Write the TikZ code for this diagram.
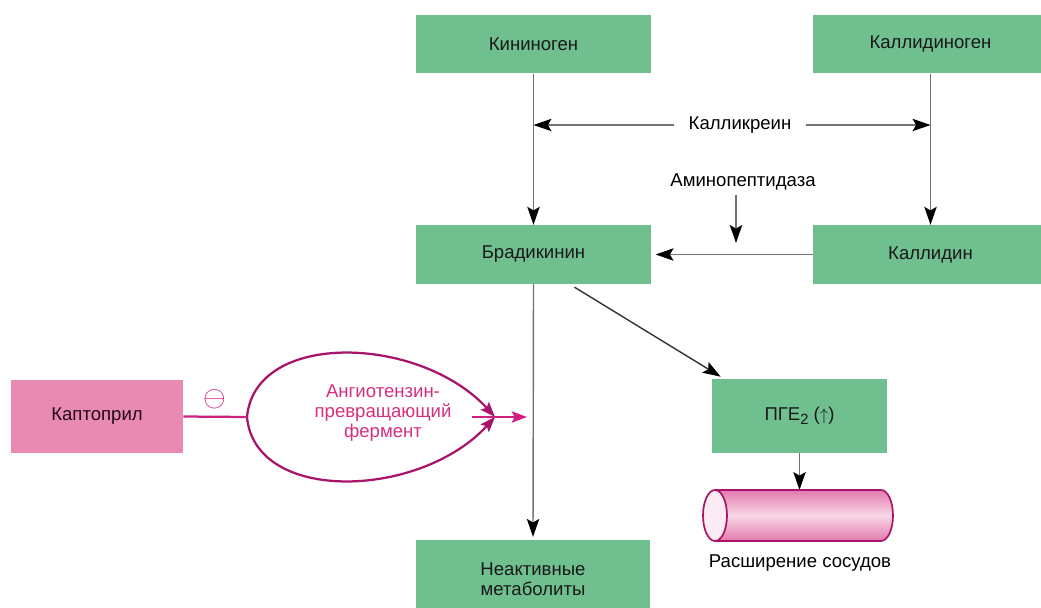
\documentclass[tikz,border=0pt]{standalone}
\usepackage{fontspec}
\setmainfont{Liberation Sans}
\usetikzlibrary{arrows.meta,positioning,calc}
\definecolor{boxgreen}{HTML}{6FBF8F}
\definecolor{boxpink}{HTML}{E98AB3}
\definecolor{magline}{HTML}{D0207F}
\definecolor{magdark}{HTML}{A8146A}
\definecolor{magtext}{HTML}{D4307F}
\definecolor{tubepink}{HTML}{E47AAE}

\begin{document}
\begin{tikzpicture}[
  x=0.025cm, y=0.025cm,
  font=\fontsize{13.2}{14.2}\selectfont,
  grn/.style={rectangle, fill=boxgreen, minimum width=5.875cm, minimum height=1.47cm, inner sep=2pt, align=center, text=black!90},
  pnk/.style={rectangle, fill=boxpink, minimum width=4.3cm, minimum height=1.825cm, text=black!80!magdark},
  arr/.style={-{Stealth[length=4.5mm, width=3.1mm, inset=0.9mm, black]}, draw=black!55, line width=1pt},
  marr/.style={-{Stealth[length=3.8mm, width=2.8mm, inset=0.7mm]}, draw=magline, line width=1.6pt},
  lbl/.style={inner xsep=10pt, inner ysep=3pt}
]
  \clip (0,0) rectangle (1041,-607);
  % Boxes
  \node[grn] (kin)   at (533.5,-44)  {Кининоген};
  \node[grn] (kalg)  at (930.5,-44)  {Каллидиноген};
  \node[grn] (brad)  at (533.5,-254.5) {Брадикинин};
  \node[grn] (kald)  at (930.5,-254.5) {Каллидин};
  \node[grn, minimum width=5.85cm, minimum height=1.95cm] (neact) at (533,-579) {Неактивные\\метаболиты};
  \node[grn, minimum width=4.375cm, minimum height=1.85cm] (pge) at (799.5,-416)
    {ПГЕ\raisebox{-0.35ex}{\fontsize{10.5}{10}\selectfont 2} ($\uparrow$)};
  \node[pnk] (kap) at (97,-416.5) {Каптоприл};
  % Enzymes
  \node[lbl] (kallik) at (740,-125) {Калликреин};
  \node[lbl, inner xsep=1pt] (amino) at (743,-182) {Аминопептидаза};
  \coordinate (amtip) at (736,-243);
  % Kinin arrows
  \draw[arr] (kin.south) -- (brad.north);
  \draw[arr] (kalg.south) -- (kald.north);
  \draw[arr] (kallik.west) -- (kallik -| kin);
  \draw[arr] (kallik.east) -- (kallik -| kalg);
  \draw[arr] (amino.south -| amtip) -- (amtip);
  \draw[arr, shorten >=3pt] (kald.west) -- (brad.east);
  \draw[arr, shorten >=2pt] (brad.south) -- (neact.north);
  \draw[arr, draw=black!80] ($(brad.south)+(41,-3)$) -- ($(pge.north west)+(9,2)$);
  % Vessel
  \coordinate (tubetop) at (799.5,-490);
  \draw[arr] (pge.south) -- (tubetop);
  \shade[top color=tubepink, bottom color=tubepink, middle color=tubepink!30]
    (715,-490) -- (881,-490) arc[start angle=90, end angle=-90, x radius=12, y radius=25.5]
    -- (715,-541) arc[start angle=-90, end angle=-270, x radius=12, y radius=25.5] -- cycle;
  \draw[magdark, line width=1.2pt]
    (715,-490) -- (881,-490) arc[start angle=90, end angle=-90, x radius=12, y radius=25.5]
    -- (715,-541);
  \filldraw[fill=tubepink!15, draw=magdark, line width=1.2pt] (715,-515.5) ellipse[x radius=12, y radius=25.5];
  \node (vaso) at (800,-563) {Расширение сосудов};
  % ACE and captopril
  \coordinate (ellL) at (247,-417);
  \coordinate (ellR) at (495,-417);
  \coordinate (acetip) at (527,-417);
  \node[text=magtext, align=center] (ace) at (383,-413) {Ангиотензин-\\превращающий\\фермент};
  \draw[marr, draw=magdark] (ellL) .. controls (255,-330) and (420,-335) .. (ellR);
  \draw[marr, draw=magdark] (ellL) .. controls (255,-504) and (420,-499) .. (ellR);
  \draw[marr, shorten <=4mm] (ace.east |- acetip) -- (acetip);
  \draw[magline, line width=1.6pt] (kap.east) -- (ellL);
  \node[text=magline, font=\fontsize{21}{21}\selectfont] (inhib) at (215,-399) {$\ominus$};
\end{tikzpicture}
\end{document}
